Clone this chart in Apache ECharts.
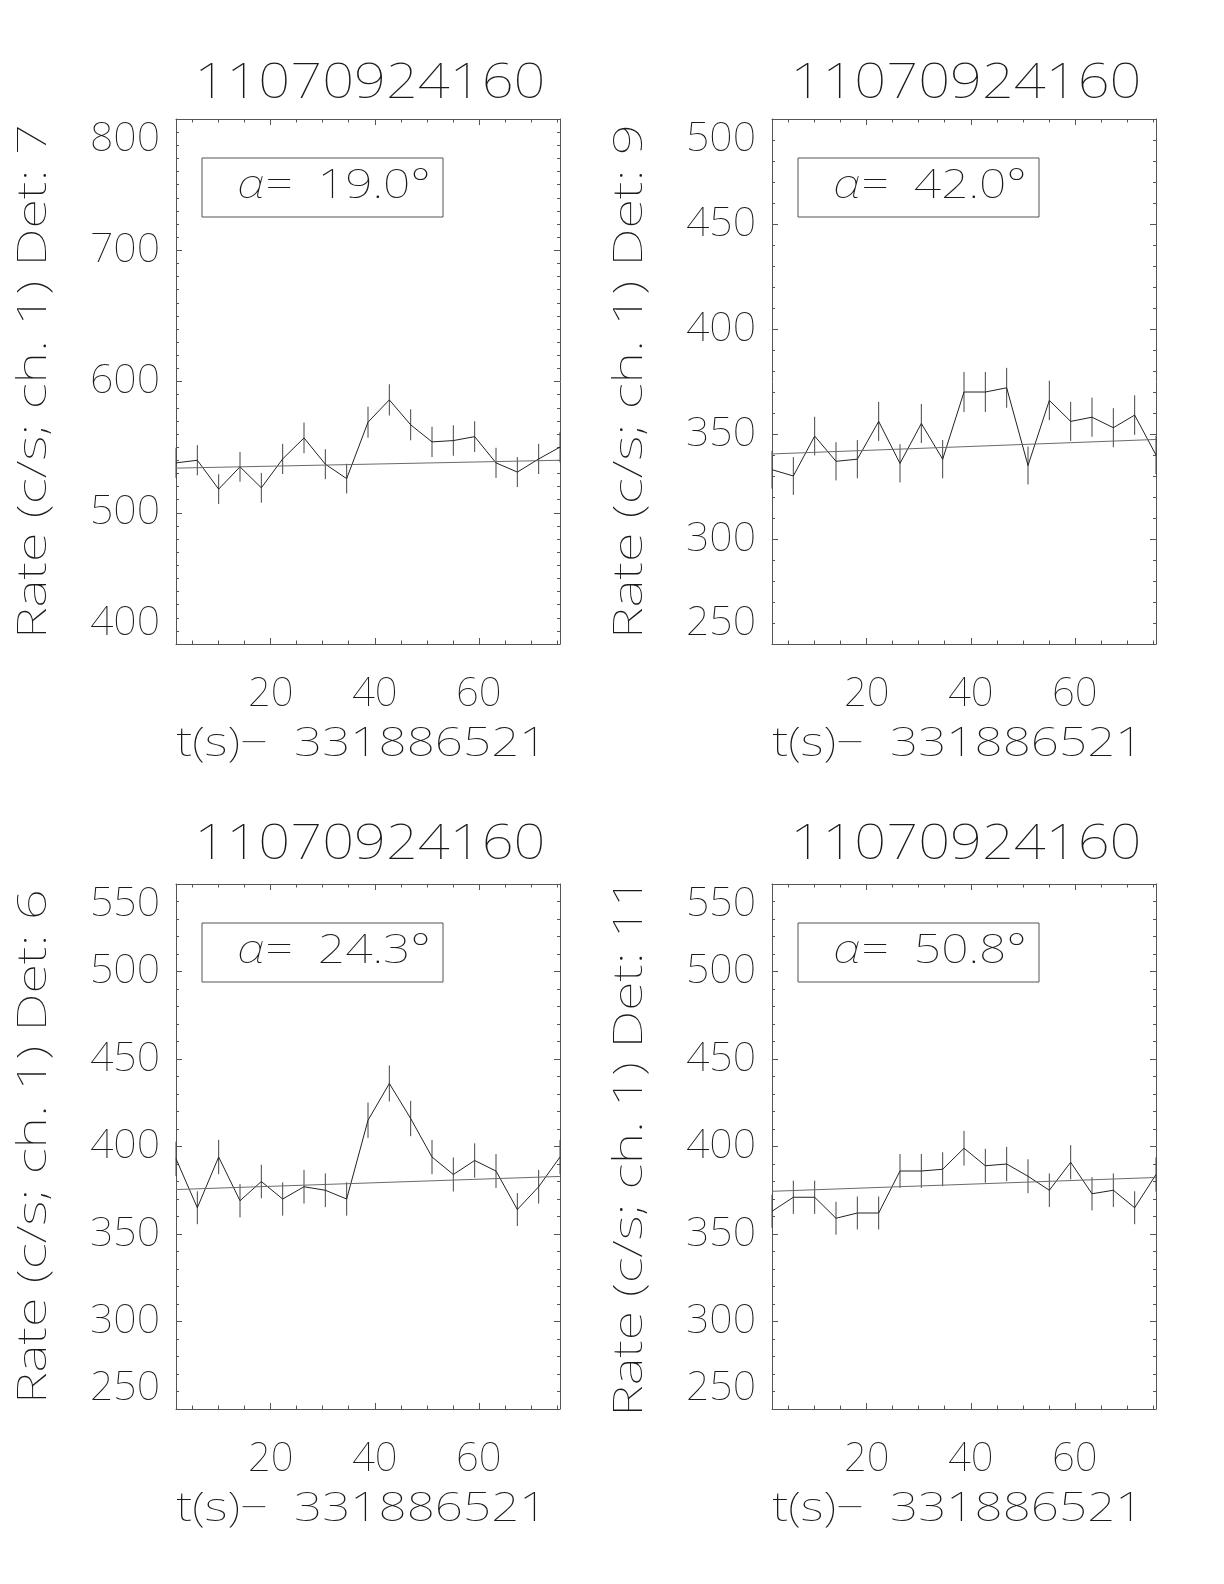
<!DOCTYPE html>
<html>
<head>
<meta charset="utf-8">
<script src="https://cdn.jsdelivr.net/npm/echarts@6/dist/echarts.min.js"></script>
<style>
html,body{margin:0;padding:0;background:#fff;}
#chart{width:1224px;height:1584px;}
</style>
</head>
<body>
<div id="chart"></div>
<script>
// ---------------- data ----------------
const plotTitle = '11070924160';
const xAxisName = 't(s)\u2212  331886521';
const yAxisNamePrefix = 'Rate (c/s; ch. 1) Det: ';
const tBins = [1.8, 5.9, 10.0, 14.1, 18.2, 22.3, 26.4, 30.5, 34.6, 38.7, 42.8, 46.9, 51.0, 55.1, 59.2, 63.3, 67.4, 71.5, 75.6];
const xTickLabels = [20, 40, 60];
const xMinorTicks = [5, 10, 15, 25, 30, 35, 45, 50, 55, 65, 70, 75];

// Det 7  (alpha = 19.0)
const det7Rate = [538, 540, 518, 535, 519, 541, 557, 537, 526, 569, 586, 567, 554, 555, 558, 538, 531, 541, 550];
const det7Err  = [11.5, 11.5, 11.3, 11.4, 11.3, 11.5, 11.7, 11.4, 11.3, 11.8, 11.9, 11.8, 11.6, 11.6, 11.7, 11.5, 11.4, 11.5, 11.6];
const det7Fit  = [534, 540];
// Det 9  (alpha = 42.0)
const det9Rate = [333, 330, 349, 337, 338, 356, 336, 355, 338, 370, 370, 372, 335, 366, 356, 358, 353, 359, 340];
const det9Err  = [9.0, 9.0, 9.2, 9.1, 9.1, 9.3, 9.1, 9.3, 9.1, 9.5, 9.5, 9.5, 9.0, 9.4, 9.3, 9.3, 9.3, 9.4, 9.1];
const det9Fit  = [340.5, 347.4];
// Det 6  (alpha = 24.3)
const det6Rate = [393, 365, 394, 369, 380, 370, 377, 375, 370, 415, 436, 416, 394, 384, 392, 386, 364, 377, 394];
const det6Err  = [9.8, 9.4, 9.8, 9.5, 9.6, 9.5, 9.6, 9.6, 9.5, 10.1, 10.3, 10.1, 9.8, 9.7, 9.8, 9.7, 9.4, 9.6, 9.8];
const det6Fit  = [375.4, 382.9];
// Det 11 (alpha = 50.8)
const det11Rate = [363, 371, 371, 359, 362, 362, 386, 386, 387, 399, 389, 390, 383, 375, 391, 373, 375, 365, 384];
const det11Err  = [9.4, 9.5, 9.5, 9.4, 9.4, 9.4, 9.7, 9.7, 9.7, 9.9, 9.7, 9.8, 9.7, 9.6, 9.8, 9.5, 9.6, 9.4, 9.7];
const det11Fit  = [374.4, 382.3];

// ---------------- layout / style ----------------
const FONT = 'Noto Sans';
const FW = 100;
const TXT = '#1a1a1a';
const AX = '#555';

const panels = [
  {det: '7',  alpha: '19.0', rate: det7Rate,  err: det7Err,  fit: det7Fit,  yMin: 400, yMax: 800, yStep: 100, ySplit: 10, left: 176, top: 119, titleY: 84},
  {det: '9',  alpha: '42.0', rate: det9Rate,  err: det9Err,  fit: det9Fit,  yMin: 250, yMax: 500, yStep: 50,  ySplit: 5,  left: 772, top: 119, titleY: 84},
  {det: '6',  alpha: '24.3', rate: det6Rate,  err: det6Err,  fit: det6Fit,  yMin: 250, yMax: 550, yStep: 50,  ySplit: 5,  left: 176, top: 884, titleY: 845},
  {det: '11', alpha: '50.8', rate: det11Rate, err: det11Err, fit: det11Fit, yMin: 250, yMax: 550, yStep: 50,  ySplit: 5,  left: 772, top: 884, titleY: 845}
];
const GW = 384, GH = 525;
const tMin = tBins[0], tMax = tBins[tBins.length - 1];

const grids = [], xAxes = [], yAxes = [], series = [], graphics = [];
const txt = (size) => ({fontFamily: FONT, fontWeight: FW, color: TXT, fontSize: size});

// text element stretched horizontally to imitate the wide vector font
function wideText(x, y, str, size, targetWidth, rotation) {
  return {
    type: 'text', x: x, y: y, rotation: rotation || 0, silent: true,
    style: {text: str, fontFamily: FONT, fontWeight: FW, fontSize: size, fill: TXT, align: 'center', verticalAlign: 'middle'},
    __target: targetWidth
  };
}

panels.forEach((p, i) => {
  grids.push({left: p.left, top: p.top, width: GW, height: GH, containLabel: false});
  const xBase = xAxes.length;
  const mkX = (pos, major, withLabel) => ({
    type: 'value', gridIndex: i, position: pos, min: tMin, max: tMax,
    axisLine: {show: major, onZero: false, lineStyle: {color: AX, width: 1}},
    axisTick: {show: true, inside: true, length: major ? 6 : 3.5, customValues: major ? xTickLabels : xMinorTicks, lineStyle: {color: AX, width: 1}},
    axisLabel: withLabel ? Object.assign({show: true, margin: 31, customValues: xTickLabels}, txt(40)) : {show: false},
    splitLine: {show: false}
  });
  xAxes.push(mkX('bottom', true, true));
  xAxes.push(mkX('bottom', false, false));
  xAxes.push(mkX('top', true, false));
  xAxes.push(mkX('top', false, false));

  const yBase = yAxes.length;
  const mkY = (pos, withLabel) => ({
    type: 'value', gridIndex: i, position: pos, min: p.yMin, max: p.yMax, interval: p.yStep,
    axisLine: {show: true, onZero: false, lineStyle: {color: AX, width: 1}},
    axisTick: {show: true, inside: true, length: 6, lineStyle: {color: AX, width: 1}},
    minorTick: {show: true, splitNumber: p.ySplit, length: 3, lineStyle: {color: AX, width: 1}},
    axisLabel: withLabel ? Object.assign({show: true, margin: 16, verticalAlignMinLabel: 'bottom', verticalAlignMaxLabel: 'top'}, txt(41)) : {show: false},
    splitLine: {show: false}, minorSplitLine: {show: false}
  });
  yAxes.push(mkY('left', true));
  yAxes.push(mkY('right', false));

  series.push({
    type: 'line', xAxisIndex: xBase, yAxisIndex: yBase,
    data: tBins.map((t, k) => [t, p.rate[k]]),
    showSymbol: false, symbol: 'none', silent: true, animation: false,
    lineStyle: {color: '#222', width: 1}
  });
  series.push({
    type: 'custom', xAxisIndex: xBase, yAxisIndex: yBase, animation: false, silent: true,
    data: tBins.map((t, k) => [t, p.rate[k], p.err[k]]),
    renderItem: (params, api) => {
      const a = api.coord([api.value(0), api.value(1) - api.value(2)]);
      const b = api.coord([api.value(0), api.value(1) + api.value(2)]);
      return {type: 'line', shape: {x1: a[0], y1: a[1], x2: b[0], y2: b[1]}, style: {stroke: '#444', lineWidth: 1}};
    }
  });
  series.push({
    type: 'line', xAxisIndex: xBase, yAxisIndex: yBase,
    data: [[tMin, p.fit[0]], [tMax, p.fit[1]]],
    showSymbol: false, symbol: 'none', silent: true, animation: false,
    lineStyle: {color: '#6a6a6a', width: 1}
  });

  // title, axis names
  graphics.push(wideText(p.left + GW / 2 + 2, p.titleY, plotTitle, 48, 351));
  graphics.push(wideText(p.left + GW / 2 - 6, p.top + GH + 101, xAxisName, 40, 371));
  graphics.push(wideText(p.left - 141, p.top + GH / 2, yAxisNamePrefix + p.det, 40, p.det.length > 1 ? 540 : 515, Math.PI / 2));

  // alpha box
  graphics.push({
    type: 'group', x: p.left + 26, y: p.top + 39, silent: true,
    children: [
      {type: 'rect', shape: {x: 0, y: 0, width: 241, height: 59}, style: {fill: 'none', stroke: AX, lineWidth: 1}},
      wideText(132, 29, '{a|\u03b1}=  ' + p.alpha + '\u00b0', 40, 194)
    ]
  });
});

// measure text and stretch to the target widths
(function stretch(list) {
  const ctx = document.createElement('canvas').getContext('2d');
  list.forEach(el => {
    if (el.children) { stretch(el.children); return; }
    if (el.type !== 'text' || !el.__target) return;
    const plain = el.style.text.replace(/\{a\|([^}]*)\}/g, '$1');
    ctx.font = el.style.fontWeight + ' ' + el.style.fontSize + 'px "' + el.style.fontFamily + '"';
    const w = ctx.measureText(plain).width;
    el.scaleX = el.__target / w;
    el.scaleY = 1;
    if (el.style.text.indexOf('{a|') >= 0) {
      el.style.rich = {a: {fontFamily: FONT, fontWeight: FW, fontSize: el.style.fontSize, fontStyle: 'italic', fill: TXT}};
    }
    delete el.__target;
  });
})(graphics);

const chart = echarts.init(document.getElementById('chart'), null, {renderer: 'canvas'});
chart.setOption({
  backgroundColor: '#fff',
  animation: false,
  grid: grids,
  xAxis: xAxes,
  yAxis: yAxes,
  series: series,
  graphic: graphics
});
</script>
</body>
</html>
